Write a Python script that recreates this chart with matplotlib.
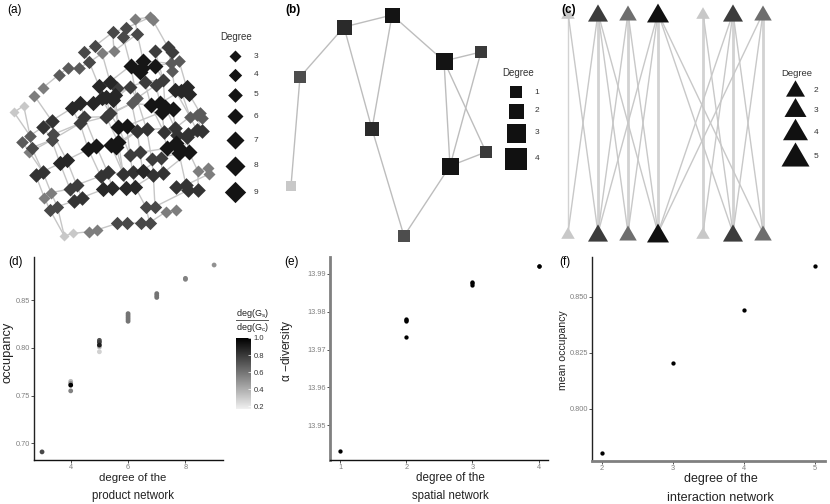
import numpy as np
import matplotlib
matplotlib.use("Agg")
import matplotlib.pyplot as plt
from matplotlib.colors import LinearSegmentedColormap, Normalize
from matplotlib.cm import ScalarMappable

plt.rcParams['font.family'] = ['Liberation Sans', 'DejaVu Sans']
plt.rcParams['mathtext.default'] = 'regular'

W, H = 830, 504
TICK = '#7f7f7f'

# (a) product network: layout positions per shade class
A_L = [(42,337),(71,317),(193,708),(220,700)]
A_M = [(103,287),(129,263),(306,160),(342,153),(405,57),(450,52),(458,60),(88,457),(593,512),(625,505),(627,522),
       (133,593),(153,578),(498,635),(527,630),(268,695),(290,690)]
A_D5 = [(177,224),(204,204),(236,204),(67,425),(90,407),(395,310),(410,295),(570,350),(600,338),(607,355),(590,345),
        (513,190),(537,183),(516,212)]
A_D4 = [(252,155),(285,138),(268,187),(155,420),(160,403),(95,443),(338,97),(378,84),(369,110),(412,102),
        (150,630),(172,620),(437,620),(465,620),(352,670),(380,668),(422,670),(449,668)]
A_D3 = [(465,153),(503,140),(515,155),(253,352),(240,370),(318,350),(330,340),(390,465),(420,457),(455,477),(482,473),
        (210,567),(230,555),(435,245),(468,255),(490,240),(352,265),(390,260)]
A_D2 = [(155,362),(130,380),(412,393),(440,388),(492,397),(525,385),(530,405),(565,403),(590,390),(605,393),(560,410),
        (107,525),(128,515),(302,528),(323,517),(370,522),(398,515),(460,525),(488,520),(222,603),(245,593),
        (528,560),(558,555),(565,570),(595,570)]
A_D1 = [(297,258),(330,245),(215,325),(240,308),(278,310),(305,295),(345,285),(340,300),(318,290),(310,568),(337,565),
        (378,565),(405,560),(180,490),(200,480),(428,512),(525,270),(560,262),(543,272),(567,282)]
A_K = [(392,197),(430,183),(425,205),(465,197),(420,215),(452,315),(480,310),(487,335),(520,327),(495,320),
       (355,380),(380,378),(265,448),(288,437),(332,435),(355,427),(348,440),(500,445),(527,430),(537,460),(567,457),(540,447)]
A_GROUPS = [A_L, A_M, A_D5, A_D4, A_D3, A_D2, A_D1, A_K]
A_GRAYS = ['#c8c8c8', '#7d7d7d', '#5a5a5a', '#484848', '#3c3c3c', '#333333', '#272727', '#161616']
A_SIZES = [15, 18, 19, 20, 21, 22, 23, 24]
A_LEG_DEG = [3, 4, 5, 6, 7, 8, 9]
A_LEG_Y = [168, 225, 285, 348, 420, 497, 577]
A_LEG_SIZE = [18, 20, 22, 24, 27, 30, 32]

# (b) spatial network
B_X = [291, 300, 344, 392, 372, 444, 481, 450, 486, 404]
B_Y = [186, 77, 27, 15, 129, 61, 52, 166, 152, 236]
B_SIDE = [9.5, 12, 15, 15, 14.5, 17, 12, 17, 12, 12]
B_GRAY = ['#c8c8c8', '#4d4d4d', '#2a2a2a', '#141414', '#2a2a2a', '#141414', '#3a3a3a', '#141414', '#3a3a3a', '#4d4d4d']
B_EDGES = [(0,1),(1,2),(2,3),(2,4),(3,4),(3,5),(5,6),(5,7),(5,8),(6,7),(7,8),(7,9),(4,9)]
B_LEG_DEG = [1, 2, 3, 4]
B_LEG_Y = [92, 111, 133, 159]
B_LEG_SIDE = [12, 15, 19, 22]

# (c) interaction network
C_X = [568, 598, 628, 658, 703, 733, 763]
C_GRAY = ['#c8c8c8', '#3c3c3c', '#6e6e6e', '#111111', '#c8c8c8', '#3c3c3c', '#6e6e6e']
C_WIDTH = [13.5, 20, 17.5, 22, 13.5, 20, 17.5]
C_CROSS = [(0,1),(1,0),(1,2),(1,3),(2,1),(2,3),(3,1),(3,2),(3,5),(3,6),(4,5),(5,3),(5,4),(5,6),(6,3),(6,5)]
C_LEG_DEG = [2, 3, 4, 5]
C_LEG_Y = [88, 107, 129, 154]
C_LEG_W = [19, 22, 25, 28]

# (d)
D_X = [3, 4, 4, 4, 4, 5, 5, 5, 5, 5, 6, 6, 6, 6, 6, 7, 7, 7, 8, 8, 9]
D_Y = [.691, .765, .763, .755, .761, .801, .796, .808, .806, .803, .836, .834, .832, .830, .828, .857, .855, .853, .873, .872, .887]
D_RATIO = [.75, .35, .5, .55, 1.0, .35, .28, .72, .78, .9, .6, .6, .6, .6, .6, .6, .6, .6, .55, .55, .5]
D_CB_TICKS = [.2, .4, .6, .8, 1.0]
# (e)
E_X = [1, 2, 2, 2, 2, 3, 3, 3, 4, 4]
E_Y = [13.943, 13.9733, 13.9775, 13.9778, 13.9782, 13.9871, 13.9875, 13.9879, 13.9920, 13.9922]
# (f)
F_X = [2, 3, 4, 5]
F_Y = [.7804, .8205, .8439, .8638]


def px_axes(l, t, r, b):
    return fig.add_axes([l / W, 1 - b / H, (r - l) / W, (b - t) / H])


def area(px):
    return (px * 0.72) ** 2


fig = plt.figure(figsize=(W / 100, H / 100), dpi=100)
TRI = [(-1, -.86), (1, -.86), (0, .86)]

# ---------- (a)
ax = px_axes(0, 0, 280, 250)
ax.set_xlim(0, 840); ax.set_ylim(750, 0); ax.axis('off')
pts = np.array([p for g in A_GROUPS for p in g], float)
segs = set()
for i, p in enumerate(pts):
    d = pts - p
    ln = np.hypot(d[:, 0], d[:, 1])
    steep = np.where((d[:, 1] > 15) & (d[:, 0] > 0) & (d[:, 1] / np.maximum(d[:, 0], 1) > 1.4) & (ln < 100))[0]
    flat = np.where((d[:, 0] > 15) & (d[:, 1] < 8) & (np.abs(d[:, 1]) / np.maximum(d[:, 0], 1) < .85) & (ln < 120))[0]
    for cand in (steep, flat):
        if len(cand):
            segs.add((i, int(cand[np.argmin(ln[cand])])))
for i, j in segs:
    ax.plot(pts[[i, j], 0], pts[[i, j], 1], color='#c6c6c6', lw=1, zorder=1)
for g, c, z in zip(A_GROUPS, A_GRAYS, A_SIZES):
    g = np.array(g)
    # half-diagonal given in layout units (3 per pixel)
    side = (z / 3) * np.sqrt(2)
    ax.scatter(g[:, 0], g[:, 1], marker='D', s=area(side), c=c, linewidths=0, zorder=2)
for d, y, z in zip(A_LEG_DEG, A_LEG_Y, A_LEG_SIZE):
    ax.scatter([704], [y], marker='D', s=area(z / 3 * np.sqrt(2)), c='#141414', linewidths=0)
    ax.text(768, y, str(d), fontsize=6, va='center', ha='center', color='#333333')
ax.text(662, 112, 'Degree', fontsize=7, va='center', ha='left', color='#333333')
ax.text(22, 30, '(a)', fontsize=8.5, va='center', ha='left')

# ---------- (b)
ax = px_axes(275, 0, 555, 250)
ax.set_xlim(275, 555); ax.set_ylim(250, 0); ax.axis('off')
for i, j in B_EDGES:
    ax.plot([B_X[i], B_X[j]], [B_Y[i], B_Y[j]], color='#bdbdbd', lw=1, zorder=1)
ax.scatter(B_X, B_Y, marker='s', s=[area(v) for v in B_SIDE], c=B_GRAY, linewidths=0, zorder=2)
for d, y, z in zip(B_LEG_DEG, B_LEG_Y, B_LEG_SIDE):
    ax.scatter([516], [y], marker='s', s=area(z), c='#111111', linewidths=0)
    ax.text(537, y, str(d), fontsize=6, va='center', ha='center', color='#333333')
ax.text(518, 73, 'Degree', fontsize=7, va='center', ha='center', color='#333333')
ax.text(285, 10, '(b)', fontsize=8.5, va='center', ha='left', fontweight='bold')

# ---------- (c)
ax = px_axes(550, 0, 830, 250)
ax.set_xlim(550, 830); ax.set_ylim(250, 0); ax.axis('off')
YT, YB = 13, 233
for k, x in enumerate(C_X):
    ax.plot([x, x], [YT, YB], color='#d2d2d2', lw=2 if k else 1, zorder=1)
for i, j in C_CROSS:
    ax.plot([C_X[i], C_X[j]], [YT, YB], color='#c8c8c8', lw=1, zorder=1)
s = [area(v) for v in C_WIDTH]
ax.scatter(C_X, [YT] * 7, marker=TRI, s=s, c=C_GRAY, linewidths=0, zorder=2)
ax.scatter(C_X, [YB] * 7, marker=TRI, s=s, c=C_GRAY, linewidths=0, zorder=2)
for d, y, z in zip(C_LEG_DEG, C_LEG_Y, C_LEG_W):
    ax.scatter([795], [y], marker=TRI, s=area(z), c='#111111', linewidths=0)
    ax.text(816, y + 3, str(d), fontsize=6, va='center', ha='center', color='#333333')
ax.text(797, 73, 'Degree', fontsize=6.8, va='center', ha='center', color='#333333')
ax.text(561, 10, '(c)', fontsize=8.5, va='center', ha='left', fontweight='bold')


def style(ax, left_w=1.0, left_c='#222222', bot_w=1.0, bot_c='#111111'):
    for sp in ('top', 'right'):
        ax.spines[sp].set_visible(False)
    ax.spines['left'].set_linewidth(left_w); ax.spines['left'].set_color(left_c)
    ax.spines['bottom'].set_linewidth(bot_w); ax.spines['bottom'].set_color(bot_c)
    ax.tick_params(length=2, width=.6, labelsize=5.3, labelcolor=TICK, color='#333333', pad=1)


def pxt(x, y, s, **kw):
    fig.text(x / W, 1 - y / H, s, ha=kw.pop('ha', 'center'), va='center', **kw)


# ---------- (d)
cmap = LinearSegmentedColormap.from_list('g', ['#f0f0f0', '#000000'])
norm = Normalize(.17, 1.0)
ax = px_axes(34, 257, 223, 460)
ax.set_xlim(2.72, 9.31); ax.set_ylim(.6825, .8954)
ax.scatter(D_X, D_Y, c=D_RATIO, cmap=cmap, norm=norm, s=area(4.8), linewidths=0)
ax.set_xticks([4, 6, 8]); ax.set_yticks([.70, .75, .80, .85])
ax.set_yticklabels(['0.70', '0.75', '0.80', '0.85'])
style(ax)
pxt(133, 478, 'degree of the', fontsize=8.2, color='#222222')
pxt(133, 496, 'product network', fontsize=8.3, color='#222222')
pxt(8, 352, 'occupancy', fontsize=9.3, rotation=90, color='#222222')
pxt(8, 262, '(d)', fontsize=8.5, ha='left')
cax = px_axes(236, 338, 251, 409)
cb = fig.colorbar(ScalarMappable(norm=norm, cmap=cmap), cax=cax, ticks=D_CB_TICKS)
cb.outline.set_visible(False)
cb.ax.tick_params(length=2, width=.5, color='white', direction='in', labelsize=5.5, labelcolor='#333333', pad=2)
cb.ax.set_yticklabels(['0.2', '0.4', '0.6', '0.8', '1.0'])
pxt(252, 313, 'deg(G$_{s}$)', fontsize=6.5, color='#222222')
pxt(252, 328, 'deg(G$_{c}$)', fontsize=6.5, color='#222222')
fig.add_artist(plt.Line2D([236 / W, 268 / W], [1 - 320 / H] * 2, color='#555555', lw=.7))

# ---------- (e)
ax = px_axes(330, 257, 548, 460)
ax.set_xlim(.849, 4.142)
ax.set_ylim(13.99 - (460 - 274) / 37.75 * .01, 13.99 + (274 - 257) / 37.75 * .01)
ax.scatter(E_X, E_Y, c='black', s=area(4.3), linewidths=0)
ax.set_xticks([1, 2, 3, 4]); ax.set_yticks([13.95, 13.96, 13.97, 13.98, 13.99])
ax.set_yticklabels(['13.95', '13.96', '13.97', '13.98', '13.99'])
style(ax, left_w=2.0, left_c='#808080')
pxt(450.5, 478, 'degree of the', fontsize=8.4, color='#222222')
pxt(450.5, 496, 'spatial network', fontsize=8.3, color='#222222')
pxt(287, 351, r'$\alpha$ $-$diversity', fontsize=8.6, rotation=90, color='#222222')
pxt(284, 262, '(e)', fontsize=8.5, ha='left')

# ---------- (f)
ax = px_axes(592, 257, 825, 461)
ax.set_xlim(2 - 9.7 / 71.1, 5 + 10 / 71.1)
ax.set_ylim(.80 - (461 - 408.7) / 56 * .025, .85 + (296.7 - 257) / 56 * .025)
ax.scatter(F_X, F_Y, c='black', s=area(4.3), linewidths=0)
ax.set_xticks([2, 3, 4, 5]); ax.set_yticks([.80, .825, .85])
ax.set_yticklabels(['0.800', '0.825', '0.850'])
style(ax, bot_w=2.0, bot_c='#808080')
pxt(720.7, 479, 'degree of the', fontsize=9, color='#222222')
pxt(720.7, 498, 'interaction network', fontsize=9.1, color='#222222')
pxt(563, 350, 'mean occupancy', fontsize=7.6, rotation=90, color='#222222')
pxt(559, 262, '(f)', fontsize=8.5, ha='left')

fig.savefig('out.png', dpi=100)
